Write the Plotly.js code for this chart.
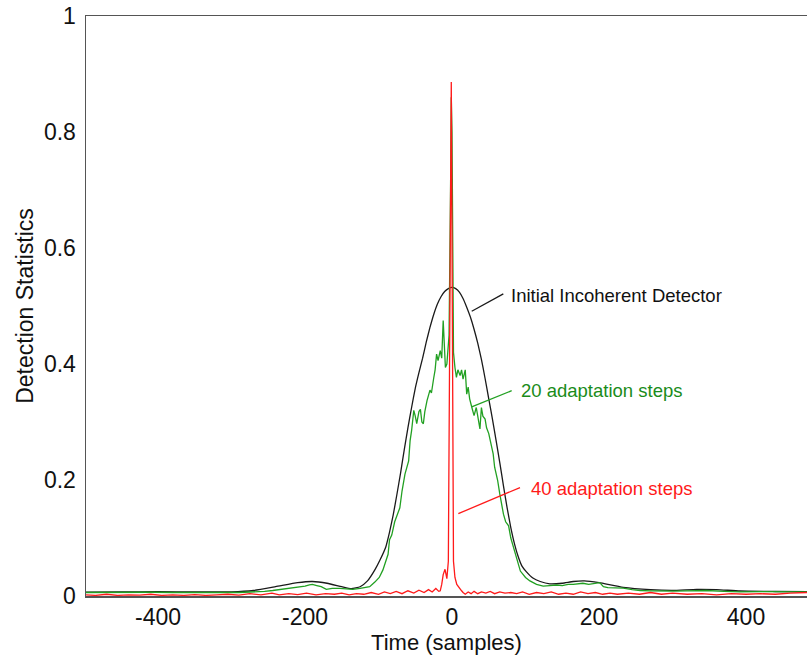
<!DOCTYPE html>
<html>
<head>
<meta charset="utf-8">
<script src="https://cdn.plot.ly/plotly-3.0.1.min.js"></script>
<style>html,body{margin:0;padding:0;background:#fff;}#chart{width:807px;height:662px;}</style>
</head>
<body>
<div id="chart"></div>
<script>
// Initial incoherent detector (black)
var blackX = [-498,-450,-400,-350,-300,-270,-240,-210,-190,-170,-150,-137,-125,-115,-105,-98,-90,-85,-80,-75,-70,-65,-60,-55,-50,-45,-40,-35,-30,-25,-20,-15,-10,-5,0,5,10,15,20,25,30,35,40,45,50,55,60,65,70,75,80,85,90,95,101,110,120,133,150,165,180,200,233,270,300,333,360,392,440,483];
var blackY = [0.0065,0.007,0.0075,0.007,0.007,0.0095,0.016,0.023,0.025,0.022,0.016,0.0126,0.016,0.026,0.045,0.062,0.085,0.11,0.14,0.175,0.212,0.252,0.29,0.325,0.358,0.385,0.41,0.438,0.463,0.485,0.503,0.516,0.525,0.53,0.532,0.53,0.524,0.513,0.498,0.481,0.46,0.436,0.408,0.375,0.34,0.305,0.268,0.23,0.19,0.152,0.118,0.09,0.068,0.052,0.042,0.031,0.025,0.021,0.022,0.025,0.026,0.023,0.015,0.011,0.0098,0.0115,0.011,0.0086,0.0078,0.0074];

// 20 adaptation steps (green)
var greenX = [-498,-470,-440,-407,-380,-350,-316,-290,-271,-255,-244,-235,-226,-217,-208,-200,-194,-190,-184,-178,-171,-163,-153,-145,-135,-125,-118,-112,-105,-99,-94,-90,-87,-85,-82,-78,-75,-71,-68,-64,-59,-57,-55,-52,-50,-48,-45,-43,-41,-39,-37,-34,-30,-28,-25,-23,-21,-19,-16,-14,-12,-10,-9,-7,-4,-2,-1,0,1,2,4,6,8,11,13,15,18,20,22,24,27,30,33,35,37,38,40,42,45,47,50,52,56,58,62,65,68,70,73,77,80,83,86,90,93,100,106,115,124,133,142,150,158,165,172,178,186,195,201,206,212,222,233,245,256,270,285,301,320,346,370,392,420,450,483];
var greenY = [0.006,0.0065,0.006,0.0065,0.006,0.0055,0.006,0.006,0.0065,0.008,0.0095,0.011,0.0115,0.013,0.0145,0.017,0.019,0.02,0.018,0.016,0.0115,0.013,0.013,0.012,0.0115,0.013,0.015,0.016,0.024,0.032,0.045,0.06,0.072,0.097,0.105,0.128,0.14,0.152,0.181,0.21,0.233,0.268,0.285,0.32,0.31,0.297,0.318,0.322,0.3,0.297,0.318,0.337,0.355,0.35,0.375,0.39,0.417,0.406,0.423,0.41,0.475,0.42,0.394,0.4,0.45,0.7,0.86,0.8,0.6,0.42,0.394,0.377,0.39,0.38,0.39,0.374,0.39,0.348,0.36,0.34,0.325,0.311,0.325,0.31,0.302,0.288,0.325,0.31,0.305,0.29,0.28,0.268,0.245,0.222,0.2,0.176,0.155,0.141,0.128,0.121,0.1,0.086,0.075,0.055,0.043,0.032,0.026,0.02,0.017,0.018,0.019,0.018,0.02,0.02,0.021,0.022,0.02,0.022,0.023,0.016,0.0145,0.014,0.0135,0.011,0.0095,0.009,0.0085,0.0085,0.009,0.0095,0.008,0.007,0.0075,0.007,0.007];

// 40 adaptation steps (red)
var redX = [-498,-485,-470,-455,-440,-425,-410,-395,-380,-365,-350,-335,-320,-305,-290,-275,-260,-245,-235,-222,-210,-198,-185,-172,-160,-150,-140,-130,-120,-110,-100,-92,-84,-76,-68,-60,-52,-45,-38,-32,-27,-22,-18,-16,-14,-12,-9.5,-7,-5,-1,2,4,6.5,9,11,13,15,18,22,26,30,35,40,46,52,58,65,72,80,88,96,105,115,125,135,145,155,165,175,185,195,205,215,225,240,255,270,285,300,320,340,360,380,400,420,440,460,483];
var redY = [0.002,0.001,0.003,0.001,0.002,0.0015,0.003,0.001,0.002,0.001,0.0025,0.001,0.002,0.003,0.0015,0.004,0.002,0.005,0.002,0.004,0.0025,0.005,0.002,0.004,0.003,0.005,0.002,0.004,0.003,0.006,0.003,0.007,0.004,0.008,0.004,0.009,0.005,0.01,0.006,0.011,0.007,0.013,0.008,0.009,0.02,0.037,0.046,0.03,0.06,0.886,0.06,0.032,0.02,0.015,0.012,0.009,0.006,0.003,0.007,0.004,0.008,0.004,0.007,0.005,0.008,0.004,0.007,0.005,0.006,0.004,0.007,0.003,0.006,0.004,0.007,0.003,0.005,0.003,0.007,0.004,0.006,0.003,0.005,0.003,0.005,0.003,0.006,0.003,0.005,0.003,0.004,0.002,0.004,0.003,0.004,0.003,0.005,0.006];

var xTicks = [-400,-200,0,200,400];
var xTickText = ['-400','-200','0','200','400'];
var yTicks = [0,0.2,0.4,0.6,0.8,1];
var yTickText = ['0','0.2','0.4','0.6','0.8','1'];

var labels = ['Initial Incoherent Detector','20 adaptation steps','40 adaptation steps'];
var FONT = 'Liberation Sans, Arial, sans-serif';

var traces = [
  {x: blackX, y: blackY, mode: 'lines', line: {color: '#1a1a1a', width: 1.3, shape: 'spline', smoothing: 0.5}, hoverinfo: 'skip'},
  {x: greenX, y: greenY, mode: 'lines', line: {color: '#22a022', width: 1.3}, hoverinfo: 'skip'},
  {x: redX, y: redY, mode: 'lines', line: {color: '#ff1a1a', width: 1.3}, hoverinfo: 'skip'}
];

var layout = {
  width: 807, height: 662,
  margin: {l: 86, r: 0, t: 16, b: 66},
  paper_bgcolor: '#fff', plot_bgcolor: '#fff',
  showlegend: false,
  font: {family: FONT, size: 23, color: '#111'},
  xaxis: {
    range: [-498, 483], tickvals: xTicks, ticktext: xTickText, ticks: '', showgrid: false, zeroline: false,
    showline: true, linecolor: '#555', linewidth: 1.5, mirror: true,
    ticklabelstandoff: 0,
    title: {text: 'Time (samples)', font: {size: 22}, standoff: 2}
  },
  yaxis: {
    range: [0, 1], tickvals: yTicks, ticktext: yTickText, ticks: '', showgrid: false, zeroline: false,
    showline: true, linecolor: '#555', linewidth: 1.5,
    ticklabelstandoff: 4,
    title: {text: 'Detection Statistics', font: {size: 23}, standoff: 4}
  },
  shapes: [
    {type: 'line', x0: 69.8, y0: 0.521, x1: 26.8, y1: 0.491, line: {color: '#1a1a1a', width: 1.3}},
    {type: 'line', x0: 81.2, y0: 0.354, x1: 26.8, y1: 0.326, line: {color: '#22a022', width: 1.3}},
    {type: 'line', x0: 92.5, y0: 0.187, x1: 8.6, y1: 0.142, line: {color: '#ff1a1a', width: 1.3}}
  ],
  annotations: [
    {x: 77.6, y: 0.518, text: labels[0], showarrow: false, xanchor: 'left', yanchor: 'middle', font: {size: 18.5, color: '#111'}},
    {x: 91.2, y: 0.354, text: labels[1], showarrow: false, xanchor: 'left', yanchor: 'middle', font: {size: 18.5, color: '#1a8c1a'}},
    {x: 104.8, y: 0.185, text: labels[2], showarrow: false, xanchor: 'left', yanchor: 'middle', font: {size: 18.5, color: '#ff1a1a'}}
  ]
};

Plotly.newPlot('chart', traces, layout, {staticPlot: true, displayModeBar: false});
</script>
</body>
</html>
